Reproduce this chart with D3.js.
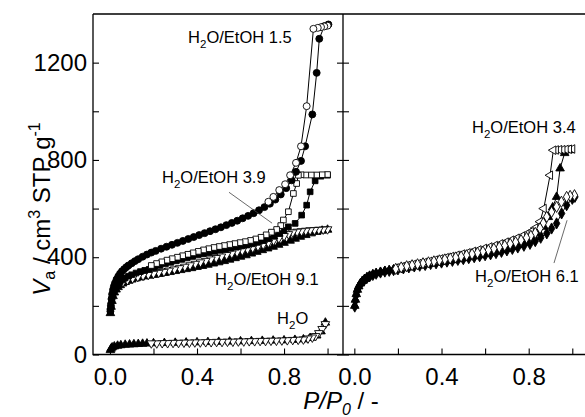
<!DOCTYPE html>
<html>
<head>
<meta charset="utf-8">
<script src="https://cdn.jsdelivr.net/npm/d3@7"></script>
<style>
  body { margin: 0; background: #fff; }
  svg { display: block; font-family: "Liberation Sans", Arial, sans-serif; }
  .frame { stroke: #000; stroke-width: 1.3; fill: none; }
  .tick line { stroke: #000; stroke-width: 1.1; }
  .tick text { font-size: 24px; fill: #000; }
  .iso { fill: none; stroke: #000; stroke-width: 1; }
  .note { font-size: 16.5px; fill: #000; }
  .lead { stroke: #444; stroke-width: 0.8; }
</style>
</head>
<body>
<svg id="chart" width="585" height="417"></svg>
<script>
// --- data: [P/P0, Va] pairs ---
// left panel
const ads15 = [[0.002,178],[0.004,200],[0.007,228],[0.010,248],[0.014,266],[0.018,280],[0.023,293],[0.030,308],[0.038,321],[0.046,332],[0.055,342],[0.065,351],[0.075,359],[0.085,366],[0.100,375],[0.115,384],[0.130,392],[0.150,402],[0.170,411],[0.190,419],[0.210,426],[0.235,435],[0.260,443],[0.285,451],[0.310,459],[0.335,467],[0.360,475],[0.385,483],[0.410,491],[0.435,499],[0.460,507],[0.485,515],[0.510,523],[0.535,532],[0.560,541],[0.585,550],[0.610,560],[0.635,570],[0.660,581],[0.685,593],[0.710,606],[0.735,620],[0.760,637],[0.785,658],[0.810,684],[0.835,716],[0.855,751],[0.878,796],[0.897,856],[0.930,987],[0.950,1158],[0.962,1298],[0.985,1350],[1.004,1357]];
const des15 = [[1.000,1352],[0.985,1349],[0.970,1346],[0.955,1343],[0.935,1339],[0.904,1021],[0.878,856],[0.855,788],[0.828,737],[0.805,700],[0.778,676],[0.751,648],[0.728,628]];

const ads39 = [[0.002,178],[0.005,205],[0.009,230],[0.014,250],[0.020,266],[0.028,279],[0.037,290],[0.047,300],[0.058,308],[0.070,315],[0.085,322],[0.100,328],[0.120,335],[0.140,341],[0.160,346],[0.180,350],[0.205,358],[0.230,366],[0.255,373],[0.280,379],[0.305,385],[0.330,391],[0.355,397],[0.380,403],[0.405,409],[0.430,414],[0.455,419],[0.480,424],[0.505,429],[0.530,433],[0.555,437],[0.580,441],[0.605,446],[0.630,450],[0.655,455],[0.680,461],[0.705,468],[0.730,476],[0.755,486],[0.780,497],[0.800,510],[0.820,525],[0.851,539],[0.881,573],[0.904,614],[0.920,669],[0.943,714],[0.970,733],[1.000,737]];
const des39 = [[1.000,740],[0.975,739],[0.950,738],[0.925,738],[0.900,738],[0.878,739],[0.866,737],[0.858,703],[0.843,662],[0.820,587],[0.797,553],[0.785,530],[0.766,514],[0.742,503],[0.718,492],[0.694,482],[0.670,475],[0.646,469],[0.622,464],[0.598,460],[0.574,456],[0.550,452],[0.526,448],[0.502,444],[0.478,440],[0.454,435],[0.430,430],[0.406,424],[0.382,418],[0.358,412],[0.334,406],[0.310,400],[0.286,394],[0.262,388],[0.238,381],[0.214,374],[0.190,366]];

const ads91 = [[0.002,170],[0.005,196],[0.009,220],[0.014,240],[0.020,255],[0.028,267],[0.037,277],[0.047,285],[0.058,292],[0.070,298],[0.085,303],[0.100,308],[0.120,313],[0.140,317],[0.160,321],[0.180,324],[0.200,327],[0.225,331],[0.250,335],[0.275,339],[0.300,343],[0.325,347],[0.350,351],[0.375,355],[0.400,360],[0.425,364],[0.450,369],[0.475,374],[0.500,379],[0.525,384],[0.550,390],[0.575,396],[0.600,402],[0.625,408],[0.650,415],[0.675,422],[0.700,429],[0.725,436],[0.750,443],[0.775,451],[0.800,459],[0.828,468],[0.851,476],[0.875,484],[0.900,491],[0.925,498],[0.950,504],[0.975,509],[1.000,513]];
const des91 = [[1.000,515],[0.980,514],[0.960,513],[0.940,512],[0.920,511],[0.900,509],[0.880,507],[0.860,505],[0.840,502],[0.820,495],[0.800,487],[0.776,478],[0.752,469],[0.728,460],[0.704,452],[0.680,445],[0.656,439],[0.632,433],[0.608,427],[0.584,421],[0.560,415],[0.536,409],[0.512,403],[0.488,397],[0.464,391],[0.440,385],[0.416,379],[0.392,373],[0.368,367],[0.344,361],[0.320,355],[0.296,350],[0.272,345],[0.248,340],[0.224,336],[0.200,332],[0.176,328],[0.152,324],[0.128,319],[0.104,313],[0.080,306],[0.060,298]];

const adsH2O = [[0.002,18],[0.005,24],[0.010,29],[0.020,33],[0.035,36],[0.050,38],[0.070,40],[0.090,41],[0.110,42],[0.130,43],[0.150,44],[0.170,45],[0.200,46],[0.250,47],[0.300,48],[0.350,49],[0.400,50],[0.450,51],[0.500,52],[0.550,53],[0.600,54],[0.650,55],[0.700,56],[0.750,57],[0.800,58],[0.850,60],[0.889,62],[0.920,68],[0.950,78],[0.970,95],[0.990,131]];
const desH2O = [[0.990,125],[0.975,105],[0.960,88],[0.945,76],[0.930,70],[0.910,66],[0.889,62],[0.865,61],[0.840,60],[0.815,59],[0.790,58],[0.765,57],[0.740,57],[0.715,56],[0.690,56],[0.665,55],[0.640,55],[0.615,54],[0.590,54],[0.565,53],[0.540,53],[0.515,52],[0.490,52],[0.465,51],[0.440,51],[0.415,50],[0.390,50],[0.365,49],[0.340,49],[0.315,48],[0.290,48],[0.265,47],[0.240,47],[0.215,46],[0.190,46]];

// right panel
const ads34 = [[0.002,200],[0.005,225],[0.009,248],[0.014,266],[0.020,280],[0.028,292],[0.037,302],[0.047,310],[0.058,317],[0.070,323],[0.085,329],[0.100,334],[0.120,339],[0.140,343],[0.160,346],[0.180,349],[0.200,352],[0.225,356],[0.250,360],[0.275,364],[0.300,367],[0.325,371],[0.350,374],[0.375,378],[0.400,381],[0.425,385],[0.450,388],[0.475,392],[0.500,396],[0.525,400],[0.550,404],[0.575,408],[0.600,413],[0.625,418],[0.650,423],[0.675,429],[0.700,435],[0.725,442],[0.750,450],[0.775,459],[0.800,469],[0.825,481],[0.850,497],[0.870,525],[0.890,565],[0.910,605],[0.928,648],[0.944,765],[0.965,828],[0.990,840]];
const des34 = [[1.000,845],[0.985,844],[0.970,843],[0.955,842],[0.940,842],[0.925,841],[0.913,840],[0.898,737],[0.869,600],[0.852,546],[0.830,520],[0.810,505],[0.790,495],[0.770,487],[0.745,478],[0.720,470],[0.695,462],[0.670,455],[0.645,448],[0.620,442],[0.595,436],[0.570,430],[0.545,424],[0.520,418],[0.495,413],[0.470,408],[0.445,403],[0.420,398],[0.395,393],[0.370,388],[0.345,383],[0.320,378],[0.295,374],[0.270,370],[0.245,366],[0.220,361],[0.195,356]];

const ads61 = [[0.002,197],[0.005,222],[0.009,245],[0.014,263],[0.020,277],[0.028,290],[0.037,300],[0.047,308],[0.058,315],[0.070,321],[0.085,327],[0.100,332],[0.120,337],[0.140,341],[0.160,344],[0.180,347],[0.200,350],[0.225,354],[0.250,358],[0.275,362],[0.300,365],[0.325,368],[0.350,372],[0.375,375],[0.400,378],[0.425,382],[0.450,385],[0.475,389],[0.500,392],[0.525,396],[0.550,400],[0.575,404],[0.600,408],[0.625,412],[0.650,417],[0.675,422],[0.700,428],[0.725,434],[0.750,440],[0.778,447],[0.806,455],[0.830,466],[0.855,480],[0.883,498],[0.905,518],[0.928,539],[0.951,580],[0.974,614],[1.000,640],[1.012,648]];
const des61 = [[1.010,655],[0.990,652],[0.974,648],[0.950,628],[0.928,607],[0.905,586],[0.883,566],[0.867,540],[0.852,519],[0.830,500],[0.810,488],[0.790,480],[0.765,470],[0.740,462],[0.715,455],[0.690,448],[0.665,441],[0.640,435],[0.615,429],[0.590,423],[0.565,418],[0.540,413],[0.515,408],[0.490,403],[0.465,399],[0.440,395],[0.415,391],[0.390,387],[0.365,383],[0.340,379],[0.315,375],[0.290,371],[0.265,367],[0.240,363],[0.215,358],[0.190,352]];

// axis ticks
const xMajor = [0, 0.4, 0.8];
const xAll = [0, 0.2, 0.4, 0.6, 0.8, 1.0];
const yMajor = [0, 400, 800, 1200];
const yAll = [0, 200, 400, 600, 800, 1000, 1200];

// --- layout / scales ---
const svg = d3.select("#chart");
const pTop = 14, pBottom = 354.5, pLeft = 93, pMid = 343, pRight = 593;

const y = d3.scaleLinear().domain([0, 1400]).range([pBottom, pTop]);
const xL = d3.scaleLinear().domain([-0.078, 1.071]).range([pLeft, pMid]);
const xR = d3.scaleLinear().domain([-0.052, 1.095]).range([pMid, pRight]);

// marker types
const sym = {
  circle: { type: d3.symbolCircle, size: 38, rot: 0 },
  square: { type: d3.symbolSquare, size: 32, rot: 0 },
  up: { type: d3.symbolTriangle, size: 32, rot: 0 },
  down: { type: d3.symbolTriangle, size: 32, rot: 180 },
  leftTri: { type: d3.symbolTriangle, size: 32, rot: -90 },
  diamond: { type: d3.symbolDiamond, size: 36, rot: 0 },
};

// draw order matters: later ones end up on top
const leftSeries = [
  { data: adsH2O, m: "up", open: false },
  { data: desH2O, m: "down", open: true },
  { data: ads91, m: "up", open: false },
  { data: des91, m: "down", open: true },
  { data: ads39, m: "square", open: false },
  { data: des39, m: "square", open: true },
  { data: ads15, m: "circle", open: false },
  { data: des15, m: "circle", open: true },
];
const rightSeries = [
  { data: ads34, m: "up", open: false },
  { data: ads61, m: "diamond", open: false },
  { data: des34, m: "leftTri", open: true },
  { data: des61, m: "diamond", open: true },
];

function drawSeries(g, x, list) {
  const line = d3.line().x((d) => x(d[0])).y((d) => y(d[1]));
  list.forEach((s) => {
    g.append("path").datum(s.data).attr("class", "iso").attr("d", line);
  });
  list.forEach((s) => {
    const k = sym[s.m];
    g.selectAll(null)
      .data(s.data)
      .join("path")
      .attr("d", d3.symbol().type(k.type).size(k.size))
      .attr("transform", (d) => `translate(${x(d[0])},${y(d[1])}) rotate(${k.rot})`)
      .attr("fill", s.open ? "#fff" : "#000")
      .attr("stroke", "#000")
      .attr("stroke-width", 0.9);
  });
}

// clip each panel
const defs = svg.append("defs");
defs.append("clipPath").attr("id", "clipL")
  .append("rect").attr("x", pLeft).attr("y", pTop).attr("width", pMid - pLeft).attr("height", pBottom - pTop);
defs.append("clipPath").attr("id", "clipR")
  .append("rect").attr("x", pMid).attr("y", pTop).attr("width", pRight - pMid).attr("height", pBottom - pTop);

drawSeries(svg.append("g").attr("clip-path", "url(#clipL)"), xL, leftSeries);
drawSeries(svg.append("g").attr("clip-path", "url(#clipR)"), xR, rightSeries);

// --- axes ---
function noDomain(g) { g.select(".domain").remove(); }

// left panel bottom
svg.append("g").attr("transform", `translate(0,${pBottom})`)
  .call(d3.axisBottom(xL).tickValues(xAll).tickSize(-6).tickPadding(13)
    .tickFormat((d) => (xMajor.includes(d) ? d3.format(".1f")(d) : "")))
  .call(noDomain);
// right panel bottom
svg.append("g").attr("transform", `translate(0,${pBottom})`)
  .call(d3.axisBottom(xR).tickValues(xAll).tickSize(-6).tickPadding(13)
    .tickFormat((d) => (xMajor.includes(d) ? d3.format(".1f")(d) : "")))
  .call(noDomain);
// y left
svg.append("g").attr("transform", `translate(${pLeft},0)`)
  .call(d3.axisLeft(y).tickValues(yAll).tickSize(-6).tickPadding(6)
    .tickFormat((d) => (yMajor.includes(d) ? d : "")))
  .call(noDomain);
// divider ticks both sides
svg.append("g").attr("transform", `translate(${pMid},0)`)
  .call(d3.axisRight(y).tickValues(yAll).tickSize(-6).tickFormat(""))
  .call(noDomain);
svg.append("g").attr("transform", `translate(${pMid},0)`)
  .call(d3.axisLeft(y).tickValues(yAll).tickSize(-6).tickFormat(""))
  .call(noDomain);

svg.selectAll(".tick text").attr("font-family", null).attr("font-size", null);

// frame
svg.append("path").attr("class", "frame")
  .attr("d", `M${pLeft},${pTop}H${pRight}M${pLeft},${pTop}V${pBottom}H${pRight}M${pMid},${pTop}V${pBottom}`);

// --- axis titles ---
const NB = "\u00a0";
const yt = svg.append("text")
  .attr("transform", "translate(50,209) rotate(-90)")
  .attr("text-anchor", "middle")
  .attr("font-size", 24);
yt.append("tspan").attr("font-style", "italic").text("V");
yt.append("tspan").attr("font-size", 16).attr("dy", 5).text("a");
yt.append("tspan").attr("dy", -5).text(NB + "/" + NB + "cm");
yt.append("tspan").attr("font-size", 16).attr("dy", -10).text("3");
yt.append("tspan").attr("dy", 10).text(NB + "STP" + NB + "g");
yt.append("tspan").attr("font-size", 16).attr("dy", -10).text("-1");

const xt = svg.append("text")
  .attr("x", 341).attr("y", 409)
  .attr("text-anchor", "middle")
  .attr("font-size", 24);
xt.append("tspan").attr("font-style", "italic").text("P/P");
xt.append("tspan").attr("font-style", "italic").attr("font-size", 16).attr("dy", 6).text("0");
xt.append("tspan").attr("dy", -6).text(NB + "/" + NB + "-");

// --- annotations ---
function note(x, p, v, tail) {
  const t = svg.append("text").attr("class", "note").attr("x", x(p)).attr("y", y(v));
  t.append("tspan").text("H");
  t.append("tspan").attr("font-size", 11.5).attr("dy", 4.5).text("2");
  t.append("tspan").attr("dy", -4.5).text(tail);
}
note(xL, 0.359, 1279, "O/EtOH 1.5");
note(xL, 0.239, 704, "O/EtOH 3.9");
note(xL, 0.483, 285, "O/EtOH 9.1");
note(xL, 0.768, 125, "O");
note(xR, 0.540, 909, "O/EtOH 3.4");
note(xR, 0.554, 298, "O/EtOH 6.1");

// leader lines
svg.append("line").attr("class", "lead")
  .attr("x1", xL(0.547)).attr("y1", y(667)).attr("x2", xL(0.745)).attr("y2", y(540));
svg.append("line").attr("class", "lead")
  .attr("x1", xR(0.976)).attr("y1", y(552)).attr("x2", xR(0.916)).attr("y2", y(376));
</script>
</body>
</html>
